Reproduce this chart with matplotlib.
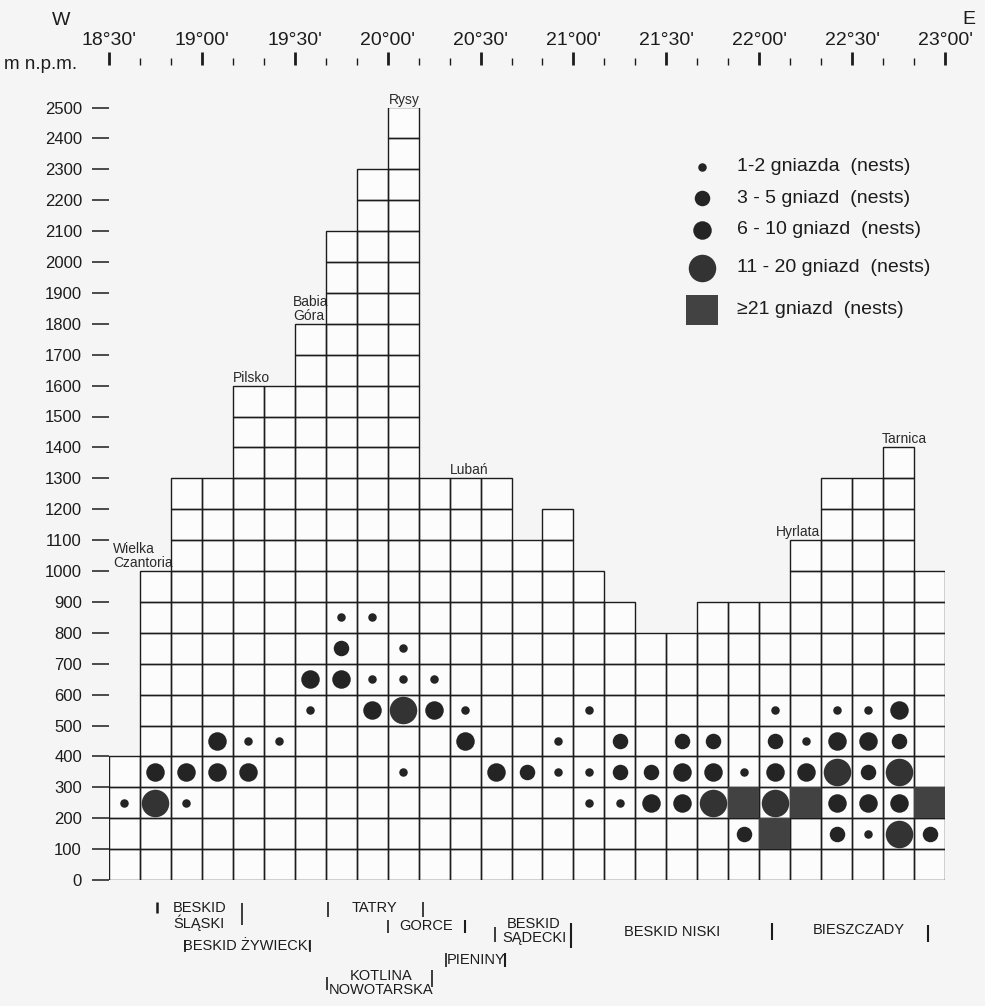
import matplotlib
matplotlib.use("Agg")
import matplotlib.pyplot as plt
from matplotlib.patches import Rectangle
from matplotlib import font_manager
import numpy as np

# highest 100 m band reached in each 10' strip of longitude, 18°30' -> 23°00'
col_top = [400, 1000, 1300, 1300, 1600, 1600, 1800, 2100, 2300, 2500,
           1300, 1300, 1300, 1100, 1200, 1000, 900, 800, 800, 900,
           900, 900, 1100, 1300, 1300, 1400, 1000]
lon_start = 18 * 60 + 30      # minutes east of the first strip

# nest records: strip index, bottom of altitude band (m), size class 1..5
nest_col = [7, 8,
            7, 9,
            6, 7, 8, 9, 10,
            6, 8, 9, 10, 11, 15, 21, 23, 24, 25,
            3, 4, 5, 11, 14, 16, 18, 19, 21, 22, 23, 24, 25,
            1, 2, 3, 4, 9, 12, 13, 14, 15, 16, 17, 18, 19, 20, 21, 22, 23, 24, 25,
            0, 1, 2, 15, 16, 17, 18, 19, 20, 21, 22, 23, 24, 25, 26,
            20, 21, 23, 24, 25, 26]
nest_alt = [800] * 2 + [700] * 2 + [600] * 5 + [500] * 10 + [400] * 13 \
    + [300] * 19 + [200] * 15 + [100] * 6
nest_cls = [1, 1,
            2, 1,
            3, 3, 1, 1, 1,
            1, 3, 4, 3, 1, 1, 1, 1, 1, 3,
            3, 1, 1, 3, 1, 2, 2, 2, 2, 1, 3, 3, 2,
            3, 3, 3, 3, 1, 3, 2, 1, 1, 2, 2, 3, 3, 1, 3, 3, 4, 2, 4,
            1, 4, 1, 1, 1, 3, 3, 4, 5, 4, 5, 3, 3, 3, 5,
            2, 5, 2, 1, 4, 2]

class_labels = ["1-2 gniazda  (nests)", "3 - 5 gniazd  (nests)",
                "6 - 10 gniazd  (nests)", "11 - 20 gniazd  (nests)",
                "\u226521 gniazd  (nests)"]
class_diam = {1: 8.5, 2: 15.5, 3: 18.5, 4: 27.5}   # px

peak_name = ["Wielka\nCzantoria", "Pilsko", "Babia\nGóra", "Rysy",
             "Lubań", "Hyrlata", "Tarnica"]
peak_col = [1, 4, 6, 9, 11, 22, 25]
peak_x = [0.13, 4.0, 5.95, 9.05, 11.0, 21.55, 24.97]
peak_clip = [2, None, 7, None, None, 23, None]

INK = "#1c1c1c"
BG = "#f5f5f5"
CELL = "#fcfcfc"

plt.rcParams["font.family"] = ["Liberation Sans", "DejaVu Sans"]
installed = {f.name for f in font_manager.fontManager.ttflist}
if "Liberation Sans Narrow" in installed:
    region_font, region_size = ["Liberation Sans Narrow", "DejaVu Sans"], 12
else:
    region_font, region_size = ["Liberation Sans", "DejaVu Sans"], 10.5

W, H = 985, 1006
fig = plt.figure(figsize=(W / 100, H / 100), dpi=100, facecolor=BG)

# main grid axes, pixel frame of the drawing area
x0, x1, yb, yt = 109, 945, 880, 107.5
ax = fig.add_axes([x0 / W, 1 - yb / H, (x1 - x0) / W, (yb - yt) / H])
ax.set_xlim(0, len(col_top))
ax.set_ylim(0, 2500)
ax.patch.set_visible(False)
for s in ax.spines.values():
    s.set_visible(False)
ax.set_xticks([])
ax.set_yticks(np.arange(0, 2501, 100))
ax.set_yticklabels([str(v) for v in range(0, 2501, 100)])
ax.tick_params(axis="y", direction="out", length=12.5, width=1.1, pad=7,
               labelsize=12, colors=INK)

# cells
cols = np.arange(len(col_top))
ax.bar(cols, col_top, width=1, align="edge", color=CELL, zorder=1)
for i, top in enumerate(col_top):
    for b in range(0, top, 100):
        ax.add_patch(Rectangle((i, b), 1, 100, fill=False, edgecolor=INK,
                               lw=1.0, zorder=2))

# nests
nest_col = np.array(nest_col)
nest_alt = np.array(nest_alt)
nest_cls = np.array(nest_cls)
for c, a in zip(nest_col[nest_cls == 5], nest_alt[nest_cls == 5]):
    ax.add_patch(Rectangle((c, a), 1, 100, facecolor="#424242",
                           edgecolor="none", zorder=3))
for k, d in class_diam.items():
    m = nest_cls == k
    ax.scatter(nest_col[m] + 0.5, nest_alt[m] + 50, s=(d * 0.72) ** 2,
               color="#333333" if k == 4 else "#242424", linewidths=0,
               zorder=4)

# peak names sitting on their strips
for name, c, x, clip in zip(peak_name, peak_col, peak_x, peak_clip):
    t = ax.text(x, col_top[c] + 3, name, ha="left", va="bottom",
                fontsize=10, color="#2a2a2a", linespacing=1.0,
                multialignment="left", zorder=1.5)
    if clip is None:
        t.set_clip_on(False)
    else:
        t.set_clip_path(Rectangle((-2, 0), clip + 2, 3000,
                                  transform=ax.transData))

# longitude scale along the top
lon = fig.add_axes([x0 / W, 1 - 65 / H, (x1 - x0) / W, 0.5 / H])
lon_end = lon_start + 10 * len(col_top)
lon.set_xlim(lon_start, lon_end)
lon.patch.set_visible(False)
for s in lon.spines.values():
    s.set_visible(False)
lon.set_yticks([])
lon.xaxis.set_ticks_position("top")
lon.set_xticks(np.arange(lon_start, lon_end + 1, 30))
lon.set_xticks(np.arange(lon_start, lon_end + 1, 10), minor=True)
lon.set_xticklabels([f"{m // 60}°{m % 60:02d}'"
                     for m in range(lon_start, lon_end + 1, 30)])
lon.tick_params(which="major", direction="out", length=9.4, width=2.0,
                pad=2, labelsize=14, colors=INK)
lon.tick_params(which="minor", direction="out", length=5, width=1.0,
                colors=INK)

# overlay in pixel coordinates for legend and region names
ov = fig.add_axes([0, 0, 1, 1])
ov.set_xlim(0, W)
ov.set_ylim(H, 0)
ov.axis("off")
ov.patch.set_visible(False)

ov.text(4, 64, "m n.p.m.", fontsize=13.5, color=INK, ha="left", va="center")
ov.text(61, 20, "W", fontsize=14, color=INK, ha="center", va="center")
ov.text(969, 19, "E", fontsize=14, color=INK, ha="center", va="center")

leg_y = [166.5, 198, 229.5, 268, 310]
for k, (lab, y) in enumerate(zip(class_labels, leg_y), start=1):
    if k in class_diam:
        ov.scatter([702], [y], s=(class_diam[k] * 0.72) ** 2,
                   color="#333333" if k == 4 else "#242424", linewidths=0)
    else:
        ov.add_patch(Rectangle((686, y - 15), 32, 30, facecolor="#424242",
                               edgecolor="none"))
    ov.text(737, y, lab, fontsize=14, color=INK, ha="left", va="center")

regions = [("BESKID\nŚLĄSKI", 173, 916, "left"),
           ("TATRY", 374, 908.5, "center"),
           ("GORCE", 426.5, 926.5, "center"),
           ("BESKID ŻYWIECKI", 247.5, 946, "center"),
           ("PIENINY", 476, 960, "center"),
           ("BESKID\nSĄDECKI", 534, 931, "center"),
           ("KOTLINA\nNOWOTARSKA", 381, 983, "center"),
           ("BESKID NISKI", 672.5, 931.5, "center"),
           ("BIESZCZADY", 858.5, 930.5, "center")]
for txt, x, y, ha in regions:
    ov.text(x, y, txt, family=region_font, fontsize=region_size, color=INK,
            ha=ha, va="center", linespacing=1.0,
            multialignment="left" if ha == "left" else "center")

bars = [(156.7, 902, 913, 1.8), (241.7, 903, 925, 1.2), (328.3, 902, 917, 1.2),
        (423.3, 902, 917, 1.2), (387.7, 920, 933, 1.2), (465, 920, 933, 1.5),
        (185, 940, 952, 1.2), (310, 940, 952, 1.2), (446, 953, 967, 1.2),
        (505, 953, 967, 1.5), (495, 927, 942, 1.2), (570.7, 923, 948, 1.5),
        (327, 977, 990, 1.2), (431.7, 970, 987, 1.2), (771.7, 923, 940, 1.5),
        (928, 925, 942, 1.5)]
for x, ya, yb2, w in bars:
    ov.plot([x, x], [ya, yb2], color=INK, lw=w, solid_capstyle="butt")

fig.savefig("out.png", dpi=100, facecolor=BG)
